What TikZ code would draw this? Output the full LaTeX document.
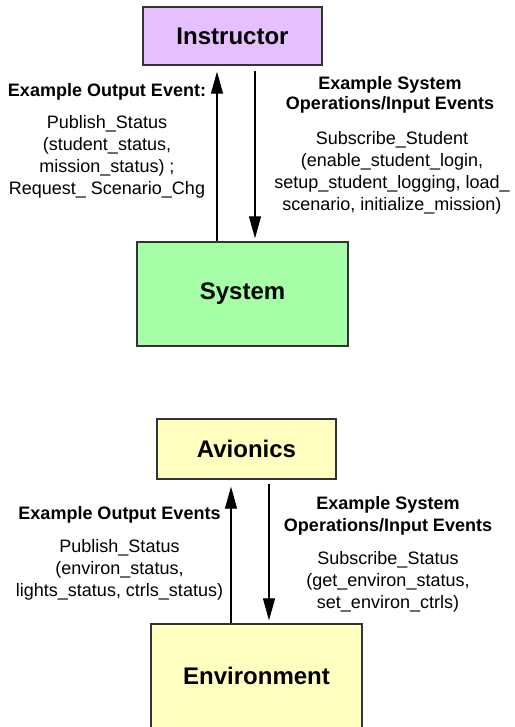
\documentclass[tikz,border=0pt]{standalone}
\usepackage{fontspec}
\setmainfont{Liberation Sans}
\usetikzlibrary{arrows.meta}
\definecolor{instrfill}{RGB}{230,191,255}
\definecolor{sysfill}{RGB}{166,255,166}
\definecolor{envfill}{RGB}{255,255,192}
\definecolor{boxline}{RGB}{51,51,51}
\tikzset{
  block/.style={draw=boxline, line width=1.4pt, rectangle, inner sep=0pt,
    font=\fontsize{24}{28}\selectfont\bfseries},
  headtext/.style={align=center, inner sep=0pt, font=\fontsize{18}{22}\selectfont\bfseries},
  bodytext/.style={align=center, inner sep=0pt, font=\fontsize{18}{22}\selectfont},
  flow/.style={line width=1.2pt, -{Triangle[length=22pt,width=12pt]}}
}
\begin{document}
\begin{tikzpicture}[x=1pt, y=-1pt]
\useasboundingbox (0,0) rectangle (514,727);
\clip (0,0) rectangle (514,727);
\fill[white] (0,0) rectangle (514,727);

% upper pair: Instructor <-> System
\node[block, fill=instrfill, minimum width=179pt, minimum height=58pt] (instr) at (232.5,36) {Instructor};
\node[block, fill=sysfill, minimum width=211pt, minimum height=104pt] (sys) at (242.5,294) {System};

\coordinate (upA) at (217,0);
\coordinate (downA) at (255,0);
\draw[flow] (sys.north -| upA) -- ([yshift=-6pt]instr.south -| upA);
\draw[flow] ([yshift=-5pt]instr.south -| downA) -- ([yshift=3pt]sys.north -| downA);

\node[headtext] (outA) at (107,92) {Example Output Event:};
\node[bodytext] (outAbody) at (107,157) {Publish\_Status\\(student\_status,\\mission\_status) ;\\Request\_ Scenario\_Chg};
\node[headtext, font=\fontsize{18}{20}\selectfont\bfseries] (inA) at (390,95) {Example System\\Operations/Input Events};
\node[bodytext] (inAbody) at (392,173) {Subscribe\_Student\\(enable\_student\_login,\\setup\_student\_logging, load\_\\scenario, initialize\_mission)};

% lower pair: Avionics <-> Environment
\node[block, fill=envfill, minimum width=179pt, minimum height=60pt] (avion) at (246.5,449) {Avionics};
\node[block, fill=envfill, minimum width=211pt, minimum height=104pt] (env) at (256.5,676) {Environment};

\coordinate (upB) at (231,0);
\coordinate (downB) at (269,0);
\draw[flow] (env.north -| upB) -- ([yshift=-7pt]avion.south -| upB);
\draw[flow] ([yshift=-4pt]avion.south -| downB) -- ([yshift=3pt]env.north -| downB);

\node[headtext] (outB) at (119.5,515) {Example Output Events};
\node[bodytext] (outBbody) at (119.5,570) {Publish\_Status\\(environ\_status,\\lights\_status, ctrls\_status)};
\node[headtext] (inB) at (388,516) {Example System\\Operations/Input Events};
\node[bodytext] (inBbody) at (388,582) {Subscribe\_Status\\(get\_environ\_status,\\set\_environ\_ctrls)};
\end{tikzpicture}
\end{document}
